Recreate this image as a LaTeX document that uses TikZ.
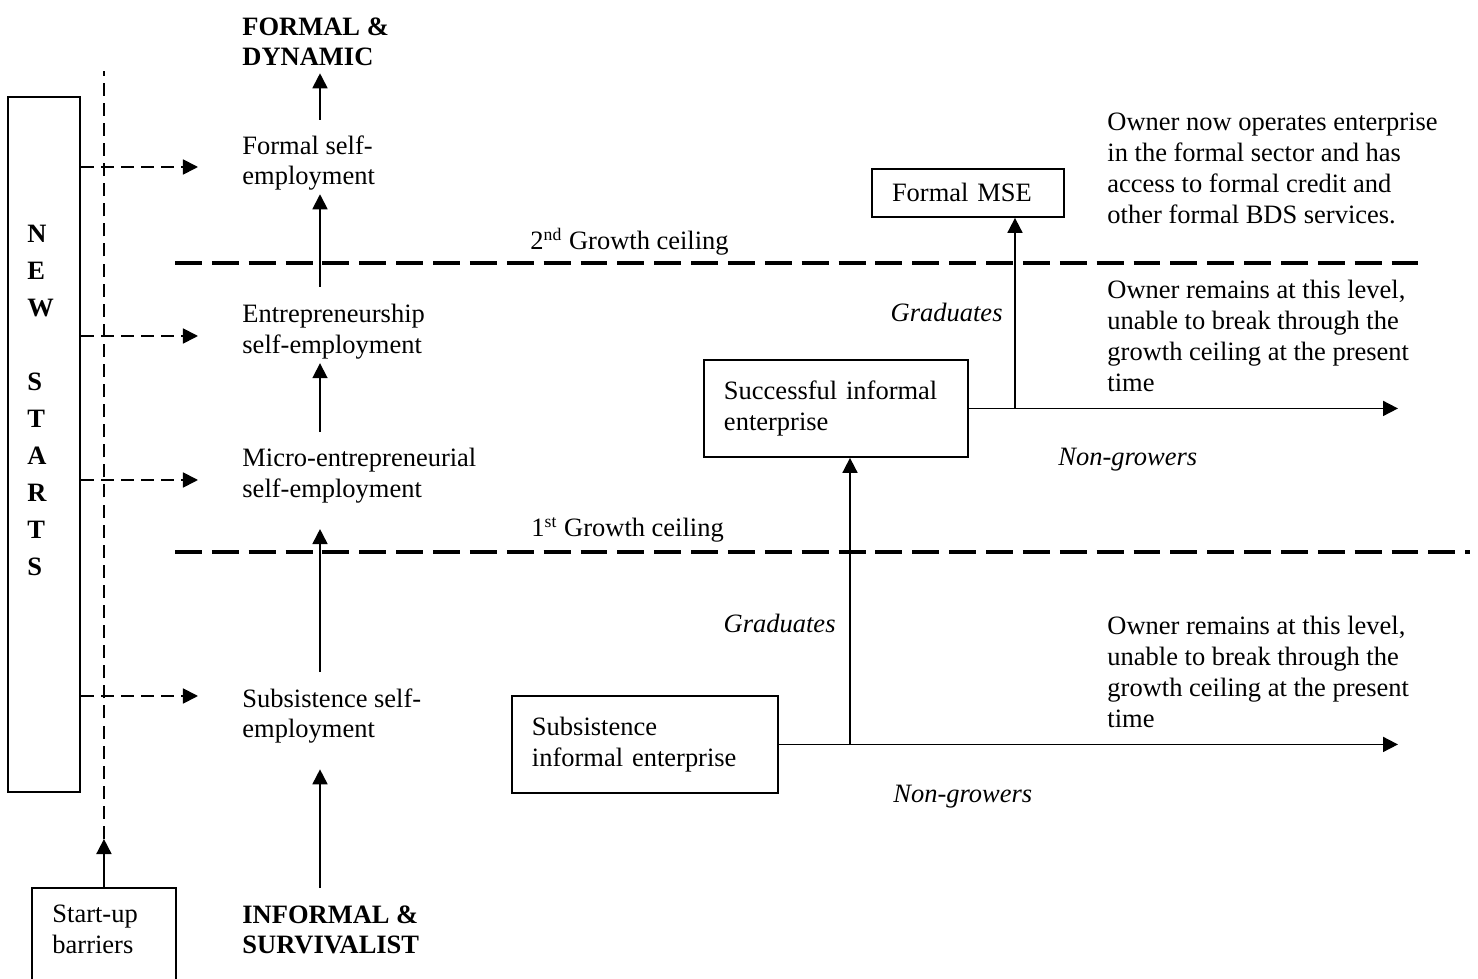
\documentclass[tikz,border=0pt]{standalone}
\usepackage{fontspec}
\setmainfont{Liberation Serif}
\usetikzlibrary{arrows.meta}
\newlength\pxl
\setlength\pxl{0.453pt}

\begin{document}
\begin{tikzpicture}[
  x=\pxl, y=-\pxl,
  txt/.style={inner sep=0, align=left, anchor=north west, font=\fontsize{12}{14}\selectfont},
  txtb/.style={txt, font=\fontsize{12}{14}\selectfont\bfseries},
  lbl/.style={inner sep=0, font=\fontsize{12}{14}\selectfont},
  lbli/.style={lbl, font=\fontsize{12}{14}\selectfont\itshape},
  box/.style={draw, line width=0.9pt, inner xsep=9.06pt, inner ysep=0pt, align=left,
              anchor=north west, font=\fontsize{12}{14}\selectfont},
  frame/.style={draw, line width=0.9pt, inner sep=0pt, anchor=north west},
  arr/.style={line width=0.8pt, -{Triangle[length=6.8pt, width=6.8pt]}},
  thindash/.style={line width=0.8pt, dash pattern=on 5.9pt off 3.2pt},
  ceiling/.style={line width=1.5pt, dash pattern=on 12.2pt off 4.5pt},
]
\useasboundingbox (0,0) rectangle (1478,979);
\fill[white] (0,0) rectangle (1478,979);
\clip (0,0) rectangle (1478,979);

% ---- left column: new starts and start-up barriers ----
\node[frame, minimum width=32.6pt, minimum height=314.8pt] (newstarts) at (7,96) {};
\node[txtb, font=\fontsize{12}{16.76}\selectfont\bfseries] (newstartstxt) at (27,225)
  {N\\E\\W\\[16.76pt]S\\T\\A\\R\\T\\S};

\node[frame, minimum width=65.2pt, minimum height=58.9pt] (startup) at (31,887) {};
\node[txt] (startuptxt) at (52,905) {Start-up\\barriers};

\coordinate (dtop) at (103,71);
\coordinate (sbtip) at (103,839);
\draw[arr] (startup.north) -- (startup.north |- sbtip);
\draw[thindash] (startup.north |- sbtip) -- (startup.north |- dtop);

% entry points of new starts
\coordinate (in1) at (198,167);
\coordinate (in2) at (198,336);
\coordinate (in3) at (198,480);
\coordinate (in4) at (198,696);
\foreach \t in {in1,in2,in3,in4}
  \draw[arr, thindash] (newstarts.east |- \t) -- (\t);

% ---- growth ladder ----
\coordinate (colx) at (320,0);
\node[txtb] (formaldyn) at (242,17) {FORMAL \&\\DYNAMIC};
\node[txt] (fse) at (242,135) {Formal self-\\employment};
\node[txt] (ese) at (242,304) {Entrepreneurship\\self-employment};
\node[txt] (mse) at (242,448) {Micro-entrepreneurial\\self-employment};
\node[txt] (sse) at (242,688) {Subsistence self-\\employment};
\node[txtb] (infsurv) at (242,905) {INFORMAL \&\\SURVIVALIST};

\draw[arr, shorten <=6.8pt, shorten >=3pt] (fse.north -| colx) -- (formaldyn.south -| colx);
\draw[arr, shorten <=7.7pt, shorten >=1.4pt] (ese.north -| colx) -- (fse.south -| colx);
\draw[arr, shorten <=7.2pt, shorten >=1.5pt] (mse.north -| colx) -- (ese.south -| colx);
\draw[arr, shorten <=7.2pt, shorten >=11.4pt] (sse.north -| colx) -- (mse.south -| colx);
\draw[arr, shorten <=7.7pt, shorten >=11.4pt] (infsurv.north -| colx) -- (sse.south -| colx);

% ---- growth ceilings ----
\coordinate (c2a) at (175,263);
\coordinate (c2b) at (1422,263);
\coordinate (c1a) at (175,552);
\coordinate (c1b) at (1470,552);
\draw[ceiling] (c2a) -- (c2b);
\draw[ceiling] (c1a) -- (c1b);
\node[lbl, anchor=base west] (ceil2) at (530,250) {2\textsuperscript{nd} Growth ceiling};
\node[lbl, anchor=base west] (ceil1) at (531,537) {1\textsuperscript{st} Growth ceiling};

% ---- enterprise paths ----
\node[box, text width=68.9pt, minimum height=21.7pt] (fmse) at (871,168) {Formal MSE};
\node[box, text width=101.5pt, minimum height=43.9pt] (succ) at (703,359) {Successful informal\\enterprise};
\node[box, text width=102.4pt, minimum height=43.9pt] (subs) at (511,695) {Subsistence\\informal enterprise};

\coordinate (xr) at (1398,0);
\coordinate (xj1) at (1015,0);
\coordinate (xj2) at (850,0);
\draw[arr] (succ.east) -- (succ.east -| xr);
\draw[arr] (succ.east -| xj1) -- (fmse.south -| xj1);
\draw[arr] (subs.east) -- (subs.east -| xr);
\draw[arr] (subs.east -| xj2) -- (succ.south -| xj2);

\node[lbli, anchor=base east] (grad2) at (1003,322) {Graduates};
\node[lbli, anchor=base west] (ngrow2) at (1058,466) {Non-growers};
\node[lbli, anchor=base east] (grad1) at (836,633) {Graduates};
\node[lbli, anchor=base west] (ngrow1) at (893,803) {Non-growers};

\node[txt] (ownerformal) at (1107,113)
  {Owner now operates enterprise\\in the formal sector and has\\access to formal credit and\\other formal BDS services.};
\node[txt] (owner2) at (1107,280)
  {Owner remains at this level,\\unable to break through the\\growth ceiling at the present\\time};
\node[txt] (owner1) at (1107,616)
  {Owner remains at this level,\\unable to break through the\\growth ceiling at the present\\time};
\end{tikzpicture}
\end{document}
